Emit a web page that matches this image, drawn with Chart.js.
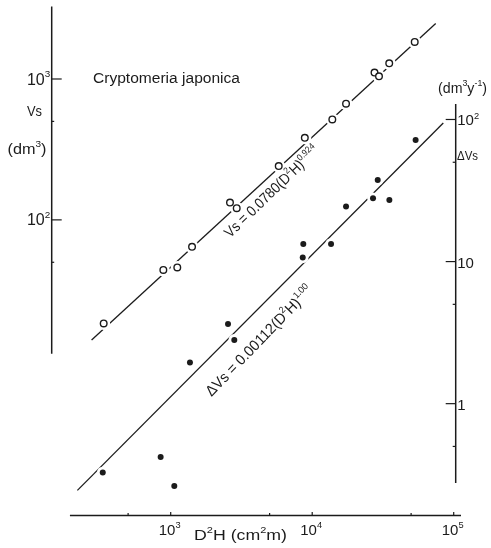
<!DOCTYPE html>
<html>
<head>
<meta charset="utf-8">
<script src="https://cdn.jsdelivr.net/npm/chart.js@4.4.1/dist/chart.umd.min.js"></script>
<style>
  html, body { margin: 0; padding: 0; background: #fff; }
  #wrap { width: 491px; height: 548px; }
</style>
</head>
<body>
<div id="wrap"><canvas id="c" width="491" height="548"></canvas></div>
<script>
// Cryptomeria japonica: stem volume Vs and its annual increment ΔVs plotted against D²H
const vsD2H = [336, 887, 1113, 1415, 2624, 2927, 5799, 8866, 13870, 17340, 27560, 29650, 35020, 53020];
const vsValues = [18.4, 44.1, 46.0, 64.4, 132.6, 121, 241, 382, 516, 668, 1110, 1045, 1291, 1834];
const dvsD2H = [331, 849, 1060, 1368, 2541, 2814, 8570, 8650, 13590, 17340, 26900, 29040, 35100, 53800];
const dvsValues = [0.328, 0.422, 0.263, 1.95, 3.64, 2.81, 10.7, 13.3, 13.3, 24.4, 27.9, 37.5, 27.1, 71.6];

// allometric fits y = a (D²H)^b, drawn over the D²H range given
const vsFit = { a: 0.0780, b: 0.924, from: 276, to: 74600 };
const dvsFit = { a: 0.00112, b: 1.00, from: 219, to: 84400 };

// ticks and their labels
const xMajorTicks = [1e3, 1e4, 1e5];
const xTickLabels = ['10^{3}', '10^{4}', '10^{5}'];
const xMinorTicks = [5e2, 5e3, 5e4];
const vsMajorTicks = [1e2, 1e3];
const vsTickLabels = ['10^{2}', '10^{3}'];
const vsMinorTicks = [50, 500];
const dvsMajorTicks = [1, 10, 100];
const dvsTickLabels = ['1', '10', '10^{2}'];
const dvsMinorTicks = [0.5, 5, 50];

// extent of each drawn axis line (data units)
const xAxisSpan = [194, 112600];
const vsAxisSpan = [11.2, 3270];
const dvsAxisSpan = [0.277, 128.6];

const INK = '#1b1b1b';
const FAMILY = '"Liberation Sans", Arial, sans-serif';

const fitPoints = f => [f.from, f.to].map(x => ({ x, y: f.a * Math.pow(x, f.b) }));
const pairs = (xs, ys) => xs.map((x, i) => ({ x, y: ys[i] }));

// "10^{3}" -> [["10", false], ["3", true]]
function parseRich(s) {
  const out = [];
  const re = /\^\{([^}]*)\}/g;
  let last = 0, m;
  while ((m = re.exec(s))) {
    if (m.index > last) out.push([s.slice(last, m.index), false]);
    out.push([m[1], true]);
    last = re.lastIndex;
  }
  if (last < s.length) out.push([s.slice(last), false]);
  return out;
}
const font = px => `${px}px ${FAMILY}`;
function richWidth(ctx, parts, fs) {
  let w = 0;
  for (const [t, sup] of parts) { ctx.font = font(sup ? fs * 0.62 : fs); w += ctx.measureText(t).width; }
  return w;
}
function drawRich(ctx, str, x, y, o) {
  const parts = parseRich(str);
  const fs = o.size;
  const nat = richWidth(ctx, parts, fs);
  const sx = o.width ? o.width / nat : 1;
  const w = nat * sx;
  ctx.save();
  ctx.fillStyle = INK;
  ctx.textAlign = 'left';
  ctx.textBaseline = 'alphabetic';
  ctx.translate(x, y);
  if (o.angle) ctx.rotate(-o.angle * Math.PI / 180);
  ctx.translate(o.align === 'center' ? -w / 2 : o.align === 'right' ? -w : 0, 0);
  ctx.scale(sx, 1);
  let cx = 0;
  for (const [t, sup] of parts) {
    ctx.font = font(sup ? fs * 0.62 : fs);
    ctx.fillText(t, cx, sup ? -fs * 0.45 : 0);
    cx += ctx.measureText(t).width;
  }
  ctx.restore();
}

// axes, ticks and all labels
const frame = {
  id: 'frame',
  afterDatasetsDraw(chart) {
    const { ctx, chartArea: a } = chart;
    const { x, yL, yR } = chart.scales;
    const leftX = a.left;
    const rightX = a.right - 5.3;
    const baseY = a.bottom;

    ctx.save();
    ctx.strokeStyle = INK;
    ctx.lineWidth = 1.5;
    ctx.lineCap = 'butt';
    const seg = (x1, y1, x2, y2) => { ctx.beginPath(); ctx.moveTo(x1, y1); ctx.lineTo(x2, y2); ctx.stroke(); };

    // D²H axis
    seg(x.getPixelForValue(xAxisSpan[0]), baseY, x.getPixelForValue(xAxisSpan[1]), baseY);
    ctx.lineWidth = 1.2;
    xMajorTicks.forEach(v => seg(x.getPixelForValue(v), baseY, x.getPixelForValue(v), baseY - 3.5));
    xMinorTicks.forEach(v => seg(x.getPixelForValue(v), baseY, x.getPixelForValue(v), baseY - 2.5));

    // Vs axis (left)
    ctx.lineWidth = 1.5;
    seg(leftX, yL.getPixelForValue(vsAxisSpan[0]), leftX, yL.getPixelForValue(vsAxisSpan[1]));
    ctx.lineWidth = 1.2;
    vsMajorTicks.forEach(v => seg(leftX, yL.getPixelForValue(v), leftX + 10, yL.getPixelForValue(v)));
    vsMinorTicks.forEach(v => seg(leftX, yL.getPixelForValue(v), leftX + 2.5, yL.getPixelForValue(v)));

    // ΔVs axis (right)
    ctx.lineWidth = 1.5;
    seg(rightX, yR.getPixelForValue(dvsAxisSpan[0]), rightX, yR.getPixelForValue(dvsAxisSpan[1]));
    ctx.lineWidth = 1.2;
    dvsMajorTicks.forEach(v => seg(rightX, yR.getPixelForValue(v), rightX - 10, yR.getPixelForValue(v)));
    dvsMinorTicks.forEach(v => seg(rightX, yR.getPixelForValue(v), rightX - 3, yR.getPixelForValue(v)));
    ctx.restore();

    // tick labels
    xMajorTicks.forEach((v, i) => drawRich(ctx, xTickLabels[i], x.getPixelForValue(v) - 1, baseY + 19.5, { size: 15, align: 'center' }));
    vsMajorTicks.forEach((v, i) => drawRich(ctx, vsTickLabels[i], leftX - 1.5, yL.getPixelForValue(v) + 5.6, { size: 16, align: 'right' }));
    dvsMajorTicks.forEach((v, i) => drawRich(ctx, dvsTickLabels[i], rightX + 1.5, yR.getPixelForValue(v) + 6, { size: 15, align: 'left' }));

    // axis titles and species name
    drawRich(ctx, 'Cryptomeria japonica', 93, 83, { size: 15.5, width: 147 });
    drawRich(ctx, 'Vs', 27, 116, { size: 14, width: 15 });
    drawRich(ctx, '(dm^{3})', 7.5, 154, { size: 15, width: 39 });
    drawRich(ctx, '(dm^{3}y^{-1})', 438, 92.5, { size: 15, width: 49 });
    drawRich(ctx, 'ΔVs', 457, 159.5, { size: 12, width: 21 });
    drawRich(ctx, 'D^{2}H (cm^{2}m)', 194, 540, { size: 15, width: 93 });

    // fitted equations along the lines
    drawRich(ctx, `Vs = ${vsFit.a.toFixed(4)}(D^{2}H)^{${vsFit.b.toFixed(3)}}`, 230, 238.5, { size: 15, width: 125, angle: 44 });
    drawRich(ctx, `ΔVs = ${dvsFit.a.toFixed(5)}(D^{2}H)^{${dvsFit.b.toFixed(2)}}`, 211.5, 397, { size: 15, width: 147, angle: 46 });
  }
};

const logScale = (min, max) => ({ type: 'logarithmic', min, max, bounds: 'data', display: false });

// white rim drawn under each mark, breaking the fitted line around it
const rim = r => ({ pointRadius: r, pointBackgroundColor: '#fff', pointBorderColor: '#fff', pointBorderWidth: 0, showLine: false, order: 2 });

new Chart(document.getElementById('c'), {
  type: 'scatter',
  data: {
    datasets: [
      { label: 'Vs fit', data: fitPoints(vsFit), yAxisID: 'yL', showLine: true, borderColor: INK, borderWidth: 1.3, pointRadius: 0, order: 3 },
      { label: 'ΔVs fit', data: fitPoints(dvsFit), yAxisID: 'yR', showLine: true, borderColor: INK, borderWidth: 1.3, pointRadius: 0, order: 3 },
      { label: 'Vs rim', data: pairs(vsD2H, vsValues), yAxisID: 'yL', ...rim(6.5) },
      { label: 'ΔVs rim', data: pairs(dvsD2H, dvsValues), yAxisID: 'yR', ...rim(5.8) },
      { label: 'Vs', data: pairs(vsD2H, vsValues), yAxisID: 'yL', pointRadius: 3.3, pointBorderWidth: 1.4, pointBorderColor: INK, pointBackgroundColor: '#fff', order: 1 },
      { label: 'ΔVs', data: pairs(dvsD2H, dvsValues), yAxisID: 'yR', pointRadius: 3, pointBorderWidth: 0, pointBackgroundColor: INK, order: 1 }
    ]
  },
  options: {
    responsive: false,
    animation: false,
    events: [],
    layout: { padding: { left: 51.7, right: 30, top: 5, bottom: 32.4 } },
    scales: {
      x: logScale(144.2, 112600),
      yL: { ...logScale(0.796, 3270), position: 'left' },
      yR: { ...logScale(0.163, 624), position: 'right' }
    },
    plugins: { legend: { display: false }, tooltip: { enabled: false } }
  },
  plugins: [frame]
});
</script>
</body>
</html>
